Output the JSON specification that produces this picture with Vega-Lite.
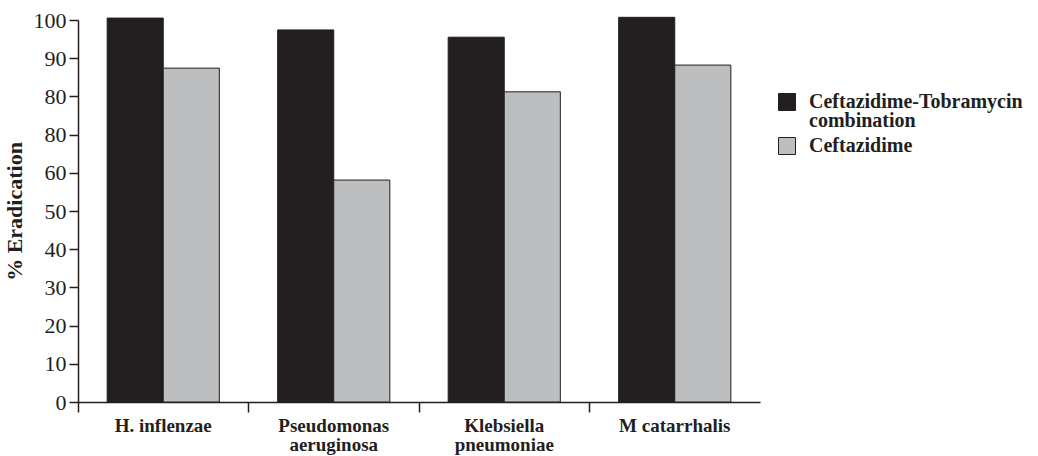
{
  "$schema": "https://vega.github.io/schema/vega-lite/v6.json",
  "width": 682,
  "height": 382,
  "autosize": "none",
  "padding": {"left": 78, "top": 20, "right": 278, "bottom": 54},
  "background": "white",
  "config": {
    "view": {"stroke": null},
    "style": {"guide-label": {"lineHeight": 19}},
    "axis": {"labelFont": "Liberation Serif", "titleFont": "Liberation Serif", "labelColor": "#231f20", "titleColor": "#231f20", "domainColor": "#231f20", "tickColor": "#231f20", "domainWidth": 1.5, "tickWidth": 1.5, "grid": false},
    "legend": {"labelFont": "Liberation Serif"}
  },
  "data": {
    "values": [
      {"organism": "H. inflenzae", "treatment": "Ceftazidime-Tobramycin combination", "eradication": 100.5},
      {"organism": "H. inflenzae", "treatment": "Ceftazidime", "eradication": 87.4},
      {"organism": "Pseudomonas aeruginosa", "treatment": "Ceftazidime-Tobramycin combination", "eradication": 97.4},
      {"organism": "Pseudomonas aeruginosa", "treatment": "Ceftazidime", "eradication": 58.1},
      {"organism": "Klebsiella pneumoniae", "treatment": "Ceftazidime-Tobramycin combination", "eradication": 95.5},
      {"organism": "Klebsiella pneumoniae", "treatment": "Ceftazidime", "eradication": 81.2},
      {"organism": "M catarrhalis", "treatment": "Ceftazidime-Tobramycin combination", "eradication": 100.7},
      {"organism": "M catarrhalis", "treatment": "Ceftazidime", "eradication": 88.2}
    ]
  },
  "encoding": {
    "y": {
      "field": "eradication", "type": "quantitative",
      "scale": {"domain": [0, 100], "nice": false},
      "axis": {"values": [0, 10, 20, 30, 40, 50, 60, 70, 80, 90, 100], "labelExpr": "datum.value == 70 ? '80' : datum.label", "labelOverlap": false, "labelFontSize": 22, "tickSize": 9, "labelPadding": 3, "title": "% Eradication", "titleFontSize": 22, "titleFontWeight": "bold", "titlePadding": 7}
    }
  },
  "layer": [
    {
      "mark": {"type": "bar", "stroke": "#231f20", "strokeWidth": 1},
      "encoding": {
        "x": {
          "field": "organism", "type": "nominal", "sort": null,
          "scale": {"paddingInner": 0, "paddingOuter": 0},
          "axis": {"orient": "bottom", "bandPosition": 0, "labels": false, "ticks": true, "tickSize": 10, "title": null, "domain": true}
        },
        "xOffset": {
          "field": "treatment", "type": "nominal",
          "sort": ["Ceftazidime-Tobramycin combination", "Ceftazidime"],
          "scale": {"paddingInner": 0, "paddingOuter": 0.52}
        },
        "color": {
          "field": "treatment", "type": "nominal",
          "sort": ["Ceftazidime-Tobramycin combination", "Ceftazidime"],
          "scale": {"domain": ["Ceftazidime-Tobramycin combination", "Ceftazidime"], "range": ["#231f20", "#bcbec0"]},
          "legend": {
            "title": null, "orient": "none", "legendX": 699, "legendY": 72,
            "symbolType": "square", "symbolSize": 289, "symbolStrokeColor": "#231f20", "symbolStrokeWidth": 1,
            "labelFontSize": 20, "labelFontWeight": "bold", "labelColor": "#231f20", "labelOffset": 12, "labelLimit": 0,
            "labelExpr": "datum.label == 'Ceftazidime-Tobramycin combination' ? ['Ceftazidime-Tobramycin', 'combination'] : datum.label",
            "rowPadding": 4
          }
        }
      }
    },
    {
      "mark": {"type": "bar", "opacity": 0},
      "encoding": {
        "x": {
          "field": "organism", "type": "nominal", "sort": null,
          "axis": {"orient": "bottom", "ticks": false, "domain": false, "labelAngle": 0, "labelFontSize": 19, "labelFontWeight": "bold", "labelPadding": 14, "labelLineHeight": 19, "labelOverlap": false, "title": null,
            "labelExpr": "datum.label == 'Pseudomonas aeruginosa' || datum.label == 'Klebsiella pneumoniae' ? split(datum.label, ' ') : datum.label"}
        }
      }
    }
  ],
  "resolve": {"axis": {"x": "independent"}}
}
